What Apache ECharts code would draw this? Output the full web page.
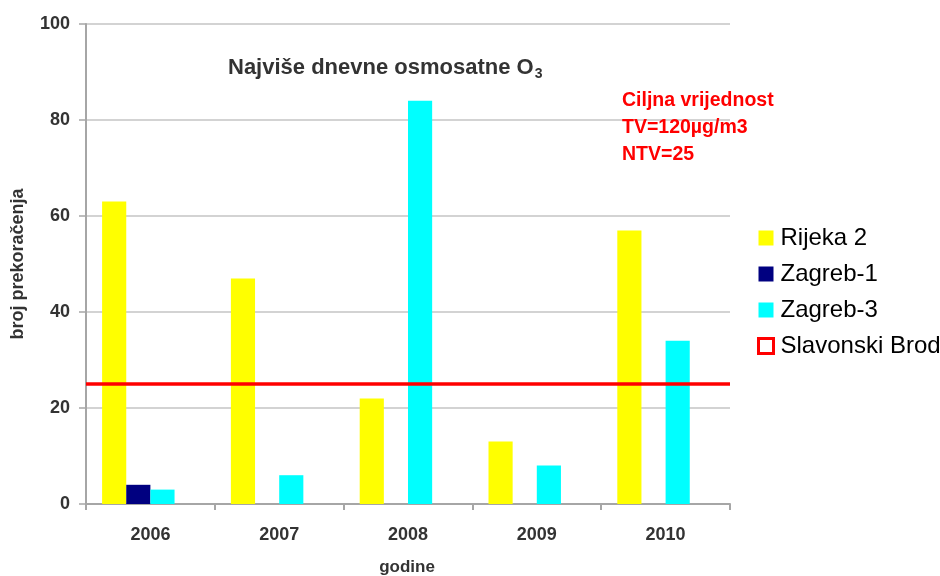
<!DOCTYPE html>
<html>
<head>
<meta charset="utf-8">
<script src="https://cdn.jsdelivr.net/npm/echarts@6/dist/echarts.min.js"></script>
<style>
  html, body { margin: 0; padding: 0; background: #fff; }
  #chart { width: 940px; height: 576px; }
</style>
</head>
<body>
<div id="chart"></div>
<script>
// Years on the category axis
const years = ['2006', '2007', '2008', '2009', '2010'];

// Number of exceedances per station
const rijeka2 = [63, 47, 22, 13, 57];
const zagreb1 = [4, null, null, null, null];
const zagreb3 = [3, 6, 84, 8, 34];
const slavonskiBrod = [null, null, null, null, null];

// Target value threshold (NTV)
const ntv = 25;

// Y axis range and step
const yMin = 0, yMax = 100, yStep = 20;

const chart = echarts.init(document.getElementById('chart'));

const fontFamily = 'Liberation Sans, Arial, sans-serif';
const axisGrey = '#a6a6a6';

function barSeries(name, data, color, extra) {
  return Object.assign({
    name: name,
    type: 'bar',
    data: data,
    barGap: '0%',
    barCategoryGap: '25%',
    itemStyle: { color: color },
    emphasis: { disabled: true }
  }, extra || {});
}

chart.setOption({
  animation: false,
  backgroundColor: '#ffffff',
  textStyle: { fontFamily: fontFamily },
  grid: { left: 86, right: 210, top: 24, bottom: 72, outerBoundsMode: 'none', containLabel: false },
  title: [
    {
      text: '{t|Najviše dnevne osmosatne O}{s|3}',
      left: 223, top: 50,
      textStyle: {
        rich: {
          t: { fontFamily: fontFamily, fontWeight: 'bold', fontSize: 22, color: '#333333' },
          s: { fontFamily: fontFamily, fontWeight: 'bold', fontSize: 14, color: '#333333', padding: [12, 0, 0, 1] }
        }
      }
    },
    {
      text: 'Ciljna vrijednost\nTV=120µg/m3\nNTV=25',
      left: 617, top: 82,
      textStyle: { fontFamily: fontFamily, fontWeight: 'bold', fontSize: 19.5, color: '#ff0000', lineHeight: 27 }
    }
  ],
  legend: {
    orient: 'vertical',
    left: 752, top: 221,
    itemWidth: 15, itemHeight: 15,
    itemGap: 12,
    icon: 'rect',
    textStyle: { fontFamily: fontFamily, fontSize: 24, color: '#000000', padding: [0, 0, 0, 2] },
    data: [
      { name: 'Rijeka 2' },
      { name: 'Zagreb-1' },
      { name: 'Zagreb-3' },
      { name: 'Slavonski Brod', itemStyle: { color: '#ffffff', borderColor: '#ff0000', borderWidth: 3 } }
    ]
  },
  xAxis: {
    type: 'category',
    data: years,
    name: 'godine',
    nameLocation: 'middle',
    nameGap: 55,
    nameTextStyle: { fontFamily: fontFamily, fontWeight: 'bold', fontSize: 17, color: '#333333', padding: [0, 0, 0, -2] },
    axisLine: { lineStyle: { color: axisGrey, width: 2 } },
    axisTick: { show: true, length: 6, lineStyle: { color: axisGrey, width: 2 } },
    axisLabel: { fontFamily: fontFamily, fontWeight: 'bold', fontSize: 18, color: '#333333', margin: 22 }
  },
  yAxis: {
    type: 'value',
    min: yMin, max: yMax, interval: yStep,
    name: 'broj prekoračenja',
    nameLocation: 'middle',
    nameGap: 59,
    nameRotate: 90,
    nameTextStyle: { fontFamily: fontFamily, fontWeight: 'bold', fontSize: 18, color: '#333333' },
    axisLine: { show: true, lineStyle: { color: axisGrey, width: 2 } },
    axisTick: { show: true, length: 7, lineStyle: { color: axisGrey, width: 1.5 } },
    axisLabel: { fontFamily: fontFamily, fontWeight: 'bold', fontSize: 18, color: '#333333', margin: 16 },
    splitLine: { show: true, lineStyle: { color: '#c4c4c4', width: 1.5 } }
  },
  series: [
    barSeries('Rijeka 2', rijeka2, '#ffff00'),
    barSeries('Zagreb-1', zagreb1, '#000080'),
    barSeries('Zagreb-3', zagreb3, '#00ffff'),
    barSeries('Slavonski Brod', slavonskiBrod, '#ffffff', {
      itemStyle: { color: '#ffffff', borderColor: '#ff0000', borderWidth: 3 },
      markLine: {
        silent: true,
        symbol: ['none', 'none'],
        label: { show: false },
        lineStyle: { color: '#ff0000', width: 3.5, type: 'solid' },
        z: 10,
        data: [{ yAxis: ntv }]
      }
    })
  ]
});
</script>
</body>
</html>
